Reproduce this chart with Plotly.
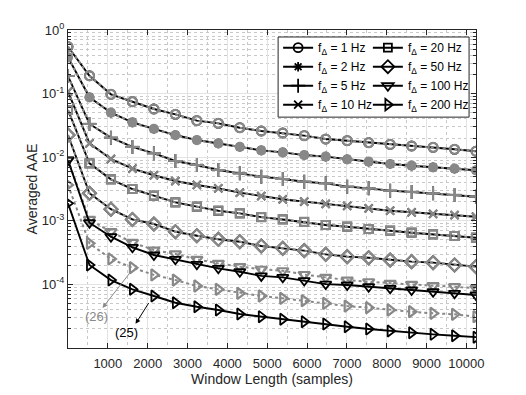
import plotly.graph_objects as go

# Window lengths (samples)
window_len = [0, 539, 1078, 1617, 2156, 2695, 3234, 3773, 4312, 4851,
              5390, 5929, 6468, 7007, 7546, 8085, 8624, 9163, 9702, 10240]

# Averaged AAE per frequency offset (curves for eq. (25) and (26) coincide for 1..50 Hz)
aae_1hz = [0.546, 0.191, 0.0975, 0.0746, 0.0573, 0.0472, 0.0375, 0.0341, 0.0291, 0.0258,
           0.0240, 0.0218, 0.0193, 0.0182, 0.0169, 0.0159, 0.0150, 0.0143, 0.0133, 0.0124]
aae_2hz = [0.372, 0.0875, 0.0501, 0.0353, 0.0278, 0.0223, 0.0186, 0.0165, 0.0145, 0.0128,
           0.0119, 0.0108, 0.0102, 0.00927, 0.00849, 0.00782, 0.00735, 0.00694, 0.00659, 0.00622]
aae_5hz = [0.189, 0.0333, 0.0203, 0.0145, 0.0115, 0.00871, 0.00754, 0.00629, 0.00557, 0.00494,
           0.00454, 0.00412, 0.00388, 0.00344, 0.00324, 0.00298, 0.00284, 0.00270, 0.00255, 0.00239]
aae_10hz = [0.107, 0.0165, 0.00937, 0.0066, 0.0052, 0.00422, 0.00366, 0.00324, 0.00277, 0.00245,
            0.00218, 0.00200, 0.00184, 0.00171, 0.00157, 0.00144, 0.00136, 0.00128, 0.00123, 0.00116]
aae_20hz = [0.0552, 0.0080, 0.00449, 0.00316, 0.00248, 0.00195, 0.00167, 0.00144, 0.00131, 0.00114,
            0.00105, 0.00096, 0.000859, 0.000808, 0.000743, 0.000699, 0.000650, 0.000613, 0.000577, 0.000542]
aae_50hz = [0.0223, 0.00271, 0.00152, 0.00105, 0.000891, 0.000674, 0.000583, 0.000512, 0.000469, 0.000402,
            0.000369, 0.000340, 0.000297, 0.000273, 0.000263, 0.000242, 0.000228, 0.000220, 0.000202, 0.000190]
aae_100hz_25 = [0.00904, 0.000933, 0.000562, 0.000383, 0.000290, 0.000248, 0.000207, 0.000179, 0.000158, 0.000136,
                0.000129, 0.000115, 0.000101, 0.0000979, 0.0000920, 0.0000867, 0.0000816, 0.0000767, 0.0000724, 0.0000681]
aae_100hz_26 = [0.00904, 0.00105, 0.000674, 0.000458, 0.000347, 0.000301, 0.000248, 0.000214, 0.000190, 0.000173,
                0.000164, 0.000143, 0.000129, 0.000117, 0.000110, 0.000104, 0.000100, 0.0000955, 0.0000920, 0.0000867]
aae_200hz_25 = [0.00188, 0.000202, 0.000117, 0.0000837, 0.0000657, 0.0000515, 0.0000446, 0.0000396, 0.0000342, 0.0000311,
                0.0000283, 0.0000259, 0.0000238, 0.0000216, 0.0000199, 0.0000185, 0.0000174, 0.0000164, 0.0000156, 0.0000148]
aae_200hz_26 = [0.00366, 0.000442, 0.000251, 0.000183, 0.000141, 0.000117, 0.0000944, 0.0000837, 0.0000724, 0.0000657,
                0.0000604, 0.0000554, 0.0000504, 0.0000457, 0.0000431, 0.0000396, 0.0000372, 0.0000351, 0.0000339, 0.0000311]

labels = ["1", "2", "5", "10", "20", "50", "100", "200"]
eq25 = [aae_1hz, aae_2hz, aae_5hz, aae_10hz, aae_20hz, aae_50hz, aae_100hz_25, aae_200hz_25]
eq26 = [aae_1hz, aae_2hz, aae_5hz, aae_10hz, aae_20hz, aae_50hz, aae_100hz_26, aae_200hz_26]

x_ticks = [1000, 2000, 3000, 4000, 5000, 6000, 7000, 8000, 9000, 10000]
y_ticks = [1e-4, 1e-3, 1e-2, 1e-1, 1]
y_ticktext = ["10<sup>-4</sup>", "10<sup>-3</sup>", "10<sup>-2</sup>", "10<sup>-1</sup>", "10<sup>0</sup>"]

sym_black = ["circle-open", "asterisk-open", "cross-thin-open", "x-thin-open",
             "square-open", "diamond-open", "triangle-down-open", "triangle-right-open"]
sym_gray = ["circle-open", "circle", "cross-thin-open", "x-thin-open",
            "square-open", "diamond-open", "triangle-down-open", "triangle-right-open"]
sizes = [9, 8, 10, 8, 8, 10, 10, 10]

GRAY = "#888888"
fig = go.Figure()

for i, lab in enumerate(labels):
    legend_name = "legend" if i < 4 else "legend2"
    black = go.Scatter(
        x=window_len, y=eq25[i], mode="lines+markers",
        name="f<sub>Δ</sub> = %s Hz" % lab, legend=legend_name,
        line=dict(color="black", width=1.9),
        marker=dict(symbol=sym_black[i], size=sizes[i], color="black",
                    line=dict(color="black", width=1.8)),
    )
    gray = go.Scatter(
        x=window_len, y=eq26[i], mode="lines+markers", showlegend=False,
        line=dict(color=GRAY, width=2, dash="dot"),
        marker=dict(symbol=sym_gray[i], size=sizes[i], color=GRAY,
                    line=dict(color=GRAY, width=2.2)),
    )
    if i < 6:
        fig.add_trace(black)
        fig.add_trace(gray)
    else:
        fig.add_trace(gray)
        fig.add_trace(black)

FONT = "Liberation Sans, Arial, sans-serif"
axis_common = dict(
    showline=True, linecolor="#262626", linewidth=1, mirror="ticks",
    ticks="inside", ticklen=5, tickcolor="#262626",
    showgrid=True, gridcolor="#e3e3e3", gridwidth=1, automargin=False,
    zeroline=False, tickfont=dict(family=FONT, size=13, color="#262626"),
)

minor_y = []
for e in range(-5, 0):
    for m in range(2, 10):
        minor_y.append(m * 10 ** e)

fig.update_xaxes(
    range=[0, 10240], tickvals=x_ticks, ticktext=[str(v) for v in x_ticks],
    ticklabelstandoff=3,
    title=dict(text="Window Length (samples)", font=dict(family=FONT, size=14, color="#262626"), standoff=1),
    minor=dict(tickmode="array", tickvals=list(range(500, 10240, 1000)), ticks="",
               showgrid=True, gridcolor="#c8c8c8", griddash="dot", gridwidth=1),
    **axis_common,
)
fig.update_yaxes(
    type="log", range=[-5, 0],
    tickvals=y_ticks, ticktext=y_ticktext,
    title=dict(text="Averaged AAE", font=dict(family=FONT, size=14, color="#262626"), standoff=0),
    minor=dict(tickmode="array", tickvals=minor_y, ticks="inside", ticklen=3, tickcolor="#262626",
               showgrid=True, gridcolor="#c8c8c8", griddash="dot", gridwidth=1),
    **axis_common,
)

legend_common = dict(
    bgcolor="rgba(0,0,0,0)", borderwidth=0, yanchor="top", xanchor="left",
    font=dict(family=FONT, size=12, color="black"), tracegroupgap=0, itemwidth=30,
)
# page body has an 8px margin: figure is sized so the plot area lands at x 68-476, y 30-348
fig.update_layout(
    width=518, height=387,
    margin=dict(l=60, r=50, t=22, b=47),
    paper_bgcolor="white", plot_bgcolor="white",
    legend=dict(x=0.515, y=0.99, **legend_common),
    legend2=dict(x=0.735, y=0.99, **legend_common),
    shapes=[dict(type="rect", xref="paper", yref="paper", x0=0.515, x1=0.983, y0=0.726, y1=0.978,
                 line=dict(color="#262626", width=1), fillcolor="white", layer="above")],
    showlegend=True,
)

# Annotations: arrows and equation labels
fig.add_annotation(x=867, y=-4.37, ax=1613, ay=-3.77, xref="x", yref="y", axref="x", ayref="y",
                   text="", showarrow=True, arrowhead=2, arrowsize=1, arrowwidth=1, arrowcolor=GRAY)
fig.add_annotation(x=716, y=-4.51, xref="x", yref="y", text="(26)", showarrow=False,
                   font=dict(family=FONT, size=13, color=GRAY))
fig.add_annotation(x=1696, y=-4.62, ax=2048, ay=-4.27, xref="x", yref="y", axref="x", ayref="y",
                   text="", showarrow=True, arrowhead=2, arrowsize=1, arrowwidth=1, arrowcolor="black")
fig.add_annotation(x=1462, y=-4.76, xref="x", yref="y", text="(25)", showarrow=False,
                   font=dict(family=FONT, size=13, color="black"))

fig.write_html("out.html")
